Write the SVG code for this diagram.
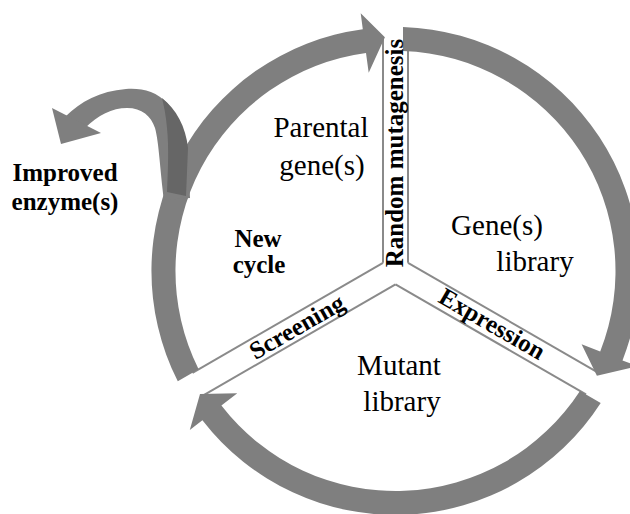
<svg xmlns="http://www.w3.org/2000/svg" width="630" height="514" viewBox="0 0 630 514">
<style>
.arc{fill:#7f7f7f;stroke:none}
.dark{fill:#666666;stroke:none}
.bar{stroke:#8a8a8a;stroke-width:2;fill:none}
.lbl{font-family:"Liberation Serif","Times New Roman",serif;font-size:29px;fill:#000;text-anchor:middle}
.blbl{font-family:"Liberation Serif","Times New Roman",serif;font-size:25px;font-weight:bold;fill:#000;text-anchor:middle}
</style>
<rect width="630" height="514" fill="#ffffff"/>
<g id="dividers">
  <polygon points="383,37 408,37 408,262.8 596.8,371.8 586,394.4 395.5,284.4 203.3,395.4 192.5,372.8 383,262.8" fill="#ffffff" stroke="none"/>
  <line class="bar" x1="383" y1="262.8" x2="383" y2="37"/>
  <line class="bar" x1="408" y1="262.8" x2="408" y2="40"/>
  <line class="bar" x1="408" y1="262.8" x2="596.8" y2="371.8"/>
  <line class="bar" x1="395.5" y1="284.4" x2="586" y2="394.4"/>
  <line class="bar" x1="383" y1="262.8" x2="192.5" y2="372.8"/>
  <line class="bar" x1="395.5" y1="284.4" x2="203.3" y2="395.4"/>
</g>
<g id="connectors">
  <path id="arc-expression" class="arc" d="M403,27.1 A244,244 0 0 1 622.5,360.4 L637.4,366.3 L596.9,375.8 L581.6,344.3 L600.2,351.6 A220,220 0 0 0 403,51.1 Z"/>
  <path id="arc-screening" class="arc" d="M600.7,402.9 A244,244 0 0 1 202.4,420.2 L189.8,430.0 L200.0,394.1 L237.3,393.3 L221.4,405.5 A220,220 0 0 0 580,390.9 Z"/>
  <path id="arc-mutagenesis" class="arc" d="M177.8,381.3 A244,244 0 0 1 362.8,29.2 L360.7,13.3 L384.9,37.2 L368.7,72.8 L366.0,53.0 A220,220 0 0 0 198.6,369.2 Z"/>
  <g id="improved-arrow">
    <path class="arc" d="M190,198 C189,160 186,126 168,104 C156,91 142,88 126,89 C100,91 80,102 66,116 L85,128 C98,115 112,108 127,108 C142,108 151,116 155,128 C159,142 160,170 164,200 Z"/>
    <polygon class="arc" points="52,108 101,133 61,144"/>
    <path class="dark" d="M162,98 C176,109 186,127 188,148 L186,196 L167,192 C168,170 169,148 167,128 C166,116 164,106 162,98 Z"/>
  </g>
</g>
<g id="node-mutagenesis"><text class="blbl" transform="translate(403,153) rotate(-90)">Random mutagenesis</text></g>
<g id="node-expression"><text class="blbl" transform="translate(488,331) rotate(30)">Expression</text></g>
<g id="node-screening"><text class="blbl" transform="translate(301,334) rotate(-30)">Screening</text></g>
<g id="node-parental"><text class="lbl" x="321" y="137">Parental</text><text class="lbl" x="322" y="175">gene(s)</text></g>
<g id="node-gene-library"><text class="lbl" x="497" y="235">Gene(s)</text><text class="lbl" x="535" y="271">library</text></g>
<g id="node-mutant-library"><text class="lbl" x="399" y="375">Mutant</text><text class="lbl" x="402" y="411">library</text></g>
<g id="node-new-cycle"><text class="blbl" x="258" y="247">New</text><text class="blbl" x="259" y="273">cycle</text></g>
<g id="node-improved"><text class="blbl" x="65" y="181">Improved</text><text class="blbl" x="65" y="210">enzyme(s)</text></g>
</svg>
